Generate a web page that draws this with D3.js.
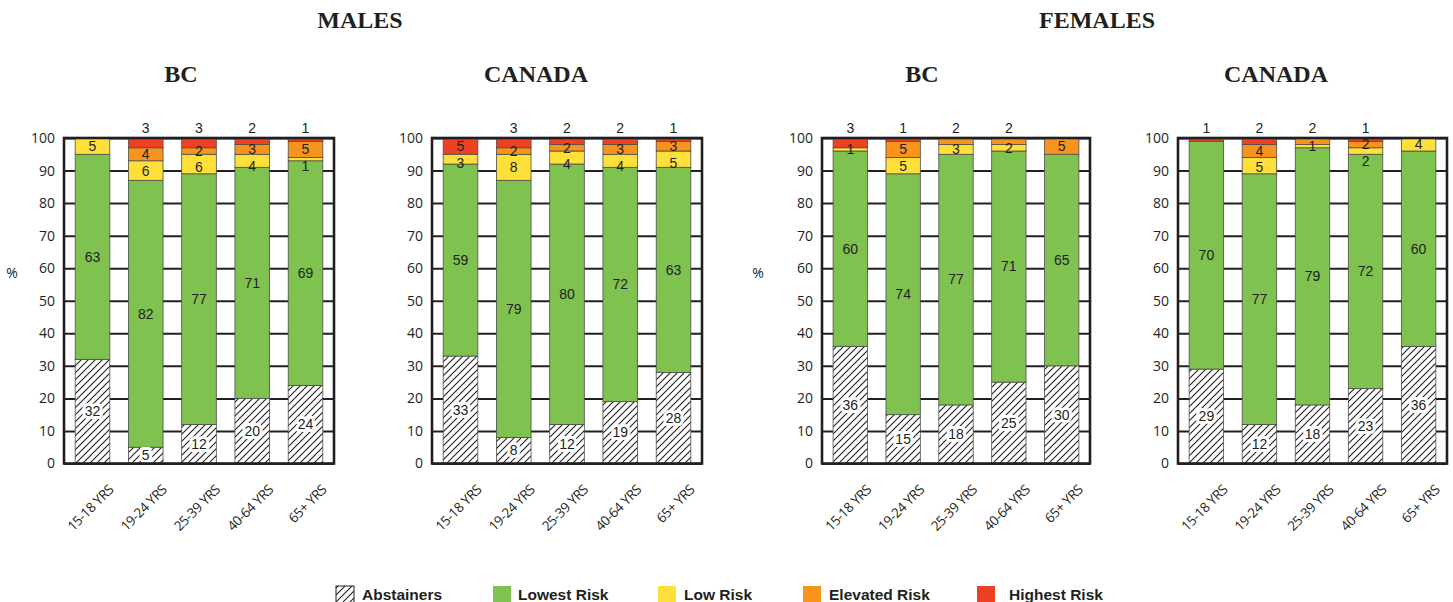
<!DOCTYPE html>
<html>
<head>
<meta charset="utf-8">
<script src="https://cdn.jsdelivr.net/npm/d3@7"></script>
<style>
  html, body { margin: 0; padding: 0; background: #fff; }
  svg { display: block; }
</style>
</head>
<body>
<svg id="chart" width="1453" height="602"></svg>
<script>
// ---------------- DATA ----------------
const ageGroups = ["15-18 YRS", "19-24 YRS", "25-39 YRS", "40-64 YRS", "65+ YRS"];
const riskLevels = ["Abstainers", "Lowest Risk", "Low Risk", "Elevated Risk", "Highest Risk"];
const sexTitles = ["MALES", "FEMALES"];
const regionTitles = ["BC", "CANADA"];
const yTicks = [0, 10, 20, 30, 40, 50, 60, 70, 80, 90, 100];

const malesBC_abstainers = [32, 5, 12, 20, 24];
const malesBC_lowest     = [63, 82, 77, 71, 69];
const malesBC_low        = [5, 6, 6, 4, 1];
const malesBC_elevated   = [0, 4, 2, 3, 5];
const malesBC_highest    = [0, 3, 3, 2, 1];

const malesCA_abstainers = [33, 8, 12, 19, 28];
const malesCA_lowest     = [59, 79, 80, 72, 63];
const malesCA_low        = [3, 8, 4, 4, 5];
const malesCA_elevated   = [0, 2, 2, 3, 3];
const malesCA_highest    = [5, 3, 2, 2, 1];

const femalesBC_abstainers = [36, 15, 18, 25, 30];
const femalesBC_lowest     = [60, 74, 77, 71, 65];
const femalesBC_low        = [1, 5, 3, 2, 0];
const femalesBC_elevated   = [0, 5, 2, 2, 5];
const femalesBC_highest    = [3, 1, 0, 0, 0];

const femalesCA_abstainers = [29, 12, 18, 23, 36];
const femalesCA_lowest     = [70, 77, 79, 72, 60];
const femalesCA_low        = [0, 5, 1, 2, 4];
const femalesCA_elevated   = [0, 4, 2, 2, 0];
const femalesCA_highest    = [1, 2, 0, 1, 0];

// ---------------- STYLE / LAYOUT ----------------
const colors = ["url(#hatch)", "#7fc250", "#ffe03b", "#f7941e", "#ee4124"];
const textColor = "#231f20";

const panels = [
  { series: [malesBC_abstainers, malesBC_lowest, malesBC_low, malesBC_elevated, malesBC_highest],
    left: 64, right: 334, title: regionTitles[0], titleX: 181, pctX: 12 },
  { series: [malesCA_abstainers, malesCA_lowest, malesCA_low, malesCA_elevated, malesCA_highest],
    left: 432, right: 702, title: regionTitles[1], titleX: 536, pctX: null },
  { series: [femalesBC_abstainers, femalesBC_lowest, femalesBC_low, femalesBC_elevated, femalesBC_highest],
    left: 822, right: 1090, title: regionTitles[0], titleX: 922, pctX: 758 },
  { series: [femalesCA_abstainers, femalesCA_lowest, femalesCA_low, femalesCA_elevated, femalesCA_highest],
    left: 1178, right: 1447, title: regionTitles[1], titleX: 1276, pctX: null }
];
const sexTitleX = [360, 1097];
const plotTop = 138, plotBottom = 463.5;

const svg = d3.select("#chart");
const defs = svg.append("defs");
const pat = defs.append("pattern")
  .attr("id", "hatch").attr("patternUnits", "userSpaceOnUse")
  .attr("width", 7).attr("height", 7);
pat.append("rect").attr("width", 7).attr("height", 7).attr("fill", "#fff");
pat.append("path")
  .attr("d", "M-1,1 l2,-2 M0,7 l7,-7 M6,8 l2,-2")
  .attr("stroke", "#231f20").attr("stroke-width", 1.1);

// titles
sexTitles.forEach((t, i) => {
  svg.append("text").attr("x", sexTitleX[i]).attr("y", 28)
    .attr("text-anchor", "middle")
    .attr("font-family", "'Liberation Serif', serif").attr("font-weight", "bold")
    .attr("font-size", 24).attr("fill", textColor).text(t);
});

const y = d3.scaleLinear().domain([0, 100]).range([plotBottom, plotTop]);

panels.forEach((p, pi) => {
  const g = svg.append("g");
  const x = d3.scaleBand().domain(ageGroups).range([p.left, p.right])
    .paddingInner(0.35).paddingOuter(0.21);

  g.append("text").attr("x", p.titleX).attr("y", 82).attr("text-anchor", "middle")
    .attr("font-family", "'Liberation Serif', serif").attr("font-weight", "bold")
    .attr("font-size", 24).attr("fill", textColor).text(p.title);

  if (p.pctX !== null) {
    g.append("text").attr("x", p.pctX).attr("y", 278).attr("text-anchor", "middle")
      .attr("font-family", "'Open Sans', sans-serif").attr("font-size", 14)
      .attr("fill", textColor).text("%");
  }

  // y axis with gridlines
  const yAxis = g.append("g").attr("transform", `translate(${p.left},0)`)
    .call(d3.axisLeft(y).tickValues(yTicks).tickSize(-(p.right - p.left)).tickPadding(9));
  yAxis.select(".domain").remove();
  yAxis.selectAll(".tick line").attr("stroke", "#231f20").attr("stroke-width", 2);
  yAxis.selectAll(".tick text").attr("font-family", "'Open Sans', sans-serif")
    .attr("font-size", 14).attr("fill", textColor);

  // stacked bars
  ageGroups.forEach((ag, i) => {
    let cum = 0;
    const segs = p.series.map((s, k) => {
      const seg = { k, v: s[i], y0: cum, y1: cum + s[i] };
      cum += s[i];
      return seg;
    });
    segs.forEach(s => {
      if (s.v <= 0) return;
      g.append("rect")
        .attr("x", x(ag)).attr("width", x.bandwidth())
        .attr("y", y(s.y1)).attr("height", y(s.y0) - y(s.y1))
        .attr("fill", colors[s.k])
        .attr("stroke", "#4d4d4d").attr("stroke-width", 0.8);
    });

    const cx = x(ag) + x.bandwidth() / 2;
    const label = (txt, yy, halo) => {
      const t = g.append("text").attr("x", cx).attr("y", yy).attr("dy", "0.35em")
        .attr("text-anchor", "middle")
        .attr("font-family", "'Liberation Sans', Arial, sans-serif").attr("font-size", 14)
        .attr("fill", textColor).text(txt);
      if (halo) t.attr("stroke", "#fff").attr("stroke-width", 6)
        .attr("stroke-linejoin", "round").attr("paint-order", "stroke");
    };
    label(segs[0].v, y((segs[0].y0 + segs[0].y1) / 2), true);
    label(segs[1].v, y((segs[1].y0 + segs[1].y1) / 2), false);

    const risk = segs.slice(2).filter(s => s.v > 0).reverse();
    let prevY = null;
    risk.forEach((s, j) => {
      if (j === 0 && s.v < 4) {
        label(s.v, plotTop - 10, false);
        return;
      }
      let yy = y((s.y0 + s.y1) / 2);
      if (prevY !== null) yy = Math.max(yy, prevY + 16.5);
      prevY = yy;
      label(s.v, yy, false);
    });
  });

  // frame
  g.append("rect").attr("x", p.left).attr("y", plotTop)
    .attr("width", p.right - p.left).attr("height", plotBottom - plotTop)
    .attr("fill", "none").attr("stroke", "#231f20").attr("stroke-width", 2.6);

  // x axis labels
  const xAxis = g.append("g").attr("transform", `translate(0,${plotBottom})`)
    .call(d3.axisBottom(x).tickSize(0));
  xAxis.select(".domain").remove();
  xAxis.selectAll(".tick text")
    .attr("x", 0).attr("y", 0).attr("dy", 0)
    .attr("transform", "translate(22,27) rotate(-45)")
    .attr("text-anchor", "end")
    .attr("font-family", "'Open Sans', sans-serif").attr("font-size", 13.5)
    .attr("letter-spacing", "-0.4")
    .attr("fill", textColor);
});

// legend
const legendX = [336, 493, 658, 803, 977];
const legendTextX = [362, 518, 684, 829, 1009];
const lg = svg.append("g");
riskLevels.forEach((r, i) => {
  lg.append("rect").attr("x", legendX[i]).attr("y", 586)
    .attr("width", 18).attr("height", 18)
    .attr("fill", colors[i])
    .attr("stroke", i === 0 ? "#231f20" : "none").attr("stroke-width", 1);
  lg.append("text").attr("x", legendTextX[i]).attr("y", 600)
    .attr("font-family", "'Liberation Sans', Arial, sans-serif").attr("font-weight", "bold")
    .attr("font-size", 15.5).attr("fill", textColor).text(r);
});
</script>
</body>
</html>
